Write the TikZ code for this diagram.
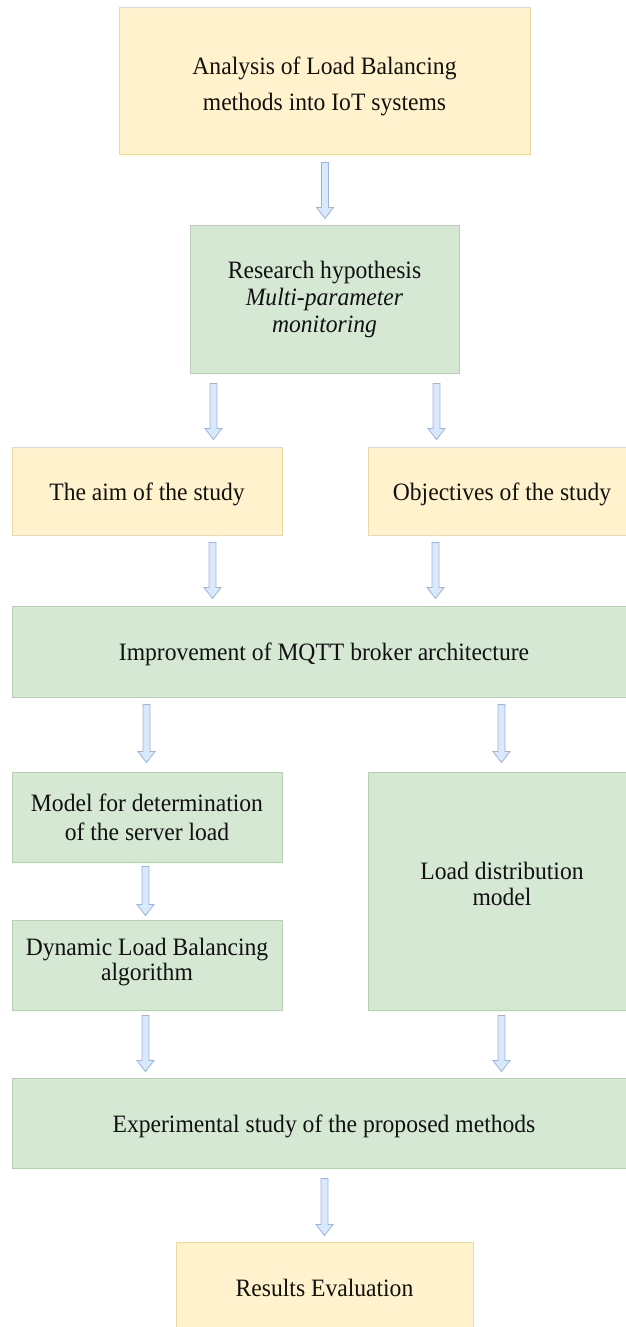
\documentclass[tikz,border=0pt]{standalone}
\usepackage{fontspec}
\setmainfont{Liberation Serif}[FakeStretch=0.944]
\usetikzlibrary{calc}

\definecolor{yfill}{HTML}{FFF2CC}
\definecolor{yline}{HTML}{EBD9A6}
\definecolor{gfill}{HTML}{D5E8D4}
\definecolor{gline}{HTML}{B8CFB4}
\definecolor{afill}{HTML}{DAE8FC}
\definecolor{aline}{HTML}{9CB4DA}
\definecolor{ink}{HTML}{111111}

\tikzset{
  box/.style={rectangle, inner sep=0pt, line width=1pt, align=center,
    text=ink, font=\fontsize{25}{29}\selectfont},
  lines/.style={font=\fontsize{25}{#1}\selectfont},
  oneline/.style={text height=23pt, text depth=5pt},
  ybox/.style={box, draw=yline, fill=yfill},
  gbox/.style={box, draw=gline, fill=gfill},
  % hollow block arrow drawn straight down from the start point to the target height
  blockarrow/.style={draw=aline, fill=afill, line width=0.8pt, line join=miter,
    to path={let \p1=(\tikztostart), \p2=(\tikztotarget) in
      (\x1-3.5pt,\y1) -- (\x1+3.5pt,\y1) -- (\x1+3.5pt,\y2+11pt)
      -- (\x1+8.5pt,\y2+11pt) -- (\x1,\y2) -- (\x1-8.5pt,\y2+11pt)
      -- (\x1-3.5pt,\y2+11pt) -- cycle}}
}

\begin{document}
\begin{tikzpicture}[x=1pt, y=-1pt]
\useasboundingbox[fill=white] (0,0) rectangle (625,1327);

\node[ybox, lines=36, minimum width=411pt, minimum height=146pt] (b1) at (324.5,81)
  {\rule{0pt}{27.4pt}Analysis of Load Balancing\\methods into IoT systems};
\node[gbox, lines=27, minimum width=269pt, minimum height=148pt] (b2) at (324.5,299)
  {Research hypothesis\\\textit{Multi-parameter}\\\textit{monitoring}};
\node[ybox, oneline, minimum width=270pt, minimum height=88pt] (b3l) at (147,491)
  {The aim of the study};
\node[ybox, oneline, minimum width=268pt, minimum height=88pt] (b3r) at (502,491)
  {Objectives of the study};
\node[gbox, oneline, minimum width=624pt, minimum height=91pt] (b4) at (324,651.5)
  {Improvement of MQTT broker architecture};
\node[gbox, lines=29, minimum width=270pt, minimum height=90pt] (b5) at (147,817)
  {\rule{0pt}{19pt}Model for determination\\of the server load};
\node[gbox, lines=26, minimum width=268pt, minimum height=238pt] (bR) at (502,891)
  {Load distribution\\model\rule[-15.1pt]{0pt}{0pt}};
\node[gbox, lines=25, minimum width=270pt, minimum height=90pt] (b6) at (147,965)
  {Dynamic Load Balancing\\algorithm\rule[-12.1pt]{0pt}{0pt}};
\node[gbox, oneline, minimum width=624pt, minimum height=90pt] (b7) at (324,1123)
  {Experimental study of the proposed methods};
\node[ybox, oneline, minimum width=297pt, minimum height=90pt] (b8) at (324.5,1287)
  {Results Evaluation};

% connectors
\path[blockarrow] ([xshift=0.5pt,yshift=-8pt]b1.south) to ([yshift=6pt]b2.north);
\path[blockarrow] ([shift={(24pt,-10pt)}]b2.south west) to ([yshift=7pt]b3l.north);
\path[blockarrow] ([shift={(247pt,-10pt)}]b2.south west) to ([yshift=7pt]b3r.north);
\path[blockarrow] ([shift={(201pt,-7pt)}]b3l.south west) to ([yshift=7pt]b4.north);
\path[blockarrow] ([shift={(68pt,-7pt)}]b3r.south west) to ([yshift=7pt]b4.north);
\path[blockarrow] ([shift={(135pt,-7pt)}]b4.south west) to ([yshift=9pt]b5.north);
\path[blockarrow] ([shift={(490pt,-7pt)}]b4.south west) to ([yshift=9pt]bR.north);
\path[blockarrow] ([shift={(134pt,-4pt)}]b5.south west) to ([yshift=4pt]b6.north);
\path[blockarrow] ([shift={(134pt,-5pt)}]b6.south west) to ([yshift=6pt]b7.north);
\path[blockarrow] ([shift={(134pt,-5pt)}]bR.south west) to ([yshift=6pt]b7.north);
\path[blockarrow] ([xshift=0.5pt,yshift=-10pt]b7.south) to ([yshift=6pt]b8.north);
\end{tikzpicture}
\end{document}
